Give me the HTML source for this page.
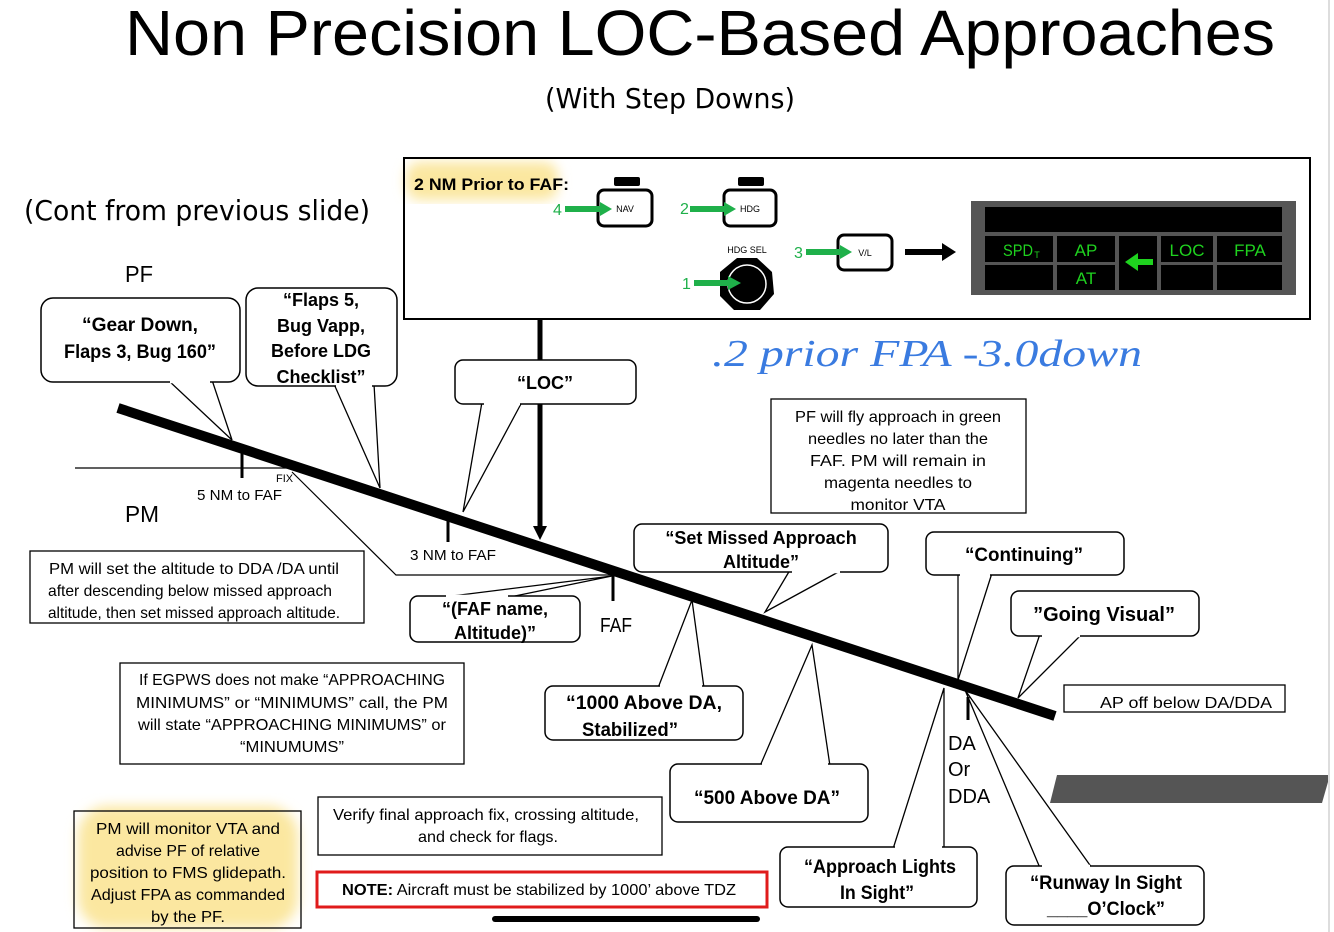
<!DOCTYPE html>
<html><head><meta charset="utf-8"><style>
html,body{margin:0;padding:0;background:#fff;}
svg{display:block;}
text{font-family:"Liberation Sans",sans-serif;}
</style></head><body>
<svg width="1334" height="932" viewBox="0 0 1334 932" xmlns="http://www.w3.org/2000/svg">
<defs>
<filter id="blur"><feGaussianBlur stdDeviation="6"/></filter>
</defs>
<rect x="406" y="162" width="152" height="38" rx="14" fill="#fbe7a0" filter="url(#blur)"/>
<rect x="78" y="806" width="220" height="122" rx="30" fill="#fbe7a0" filter="url(#blur)"/>

<text x="700" y="55" font-size="64" text-anchor="middle" textLength="1150" lengthAdjust="spacingAndGlyphs">Non Precision LOC-Based Approaches</text>
<text x="670" y="108" font-size="28" text-anchor="middle" style="font-family:'DejaVu Sans',sans-serif" textLength="250" lengthAdjust="spacingAndGlyphs">(With Step Downs)</text>
<text x="24" y="220" font-size="28" style="font-family:'DejaVu Sans',sans-serif" textLength="346" lengthAdjust="spacingAndGlyphs">(Cont from previous slide)</text>
<text x="125" y="282" font-size="23" textLength="28" lengthAdjust="spacingAndGlyphs">PF</text>
<text x="125" y="522" font-size="23" textLength="34" lengthAdjust="spacingAndGlyphs">PM</text>

<rect x="404" y="158" width="906" height="161" fill="none" stroke="#000" stroke-width="2"/>
<text x="414" y="190" font-size="17" font-weight="bold" textLength="155" lengthAdjust="spacingAndGlyphs">2 NM Prior to FAF:</text>
<rect x="614" y="177" width="26" height="9" rx="2" fill="#000"/>
<rect x="598" y="190" width="54" height="36" rx="6" fill="#fff" stroke="#000" stroke-width="3"/>
<text x="625" y="212" font-size="9" text-anchor="middle">NAV</text>
<rect x="738" y="177" width="26" height="9" rx="2" fill="#000"/>
<rect x="724" y="190" width="52" height="36" rx="6" fill="#fff" stroke="#000" stroke-width="3"/>
<text x="750" y="212" font-size="9" text-anchor="middle">HDG</text>
<text x="747" y="253" font-size="9" text-anchor="middle">HDG SEL</text>
<polygon points="737,258 757,258 772,272 774,294 760,310 734,310 720,296 720,272" fill="#000"/>
<circle cx="747" cy="284" r="19" fill="#000" stroke="#fff" stroke-width="1.5"/>
<rect x="838" y="235" width="54" height="35" rx="6" fill="#fff" stroke="#000" stroke-width="3"/>
<text x="865" y="256" font-size="9" text-anchor="middle">V/L</text>
<g fill="#1fb04a" font-size="16">
<text x="553" y="215">4</text><rect x="565" y="206" width="37" height="6"/><polygon points="600,202 612,209 600,216"/>
<text x="680" y="214">2</text><rect x="690" y="206" width="36" height="6"/><polygon points="724,202 736,209 724,216"/>
<text x="682" y="289">1</text><rect x="694" y="280" width="36" height="6"/><polygon points="728,276 741,283 728,290"/>
<text x="794" y="258">3</text><rect x="806" y="249" width="36" height="6"/><polygon points="840,245 852,252 840,259"/>
</g>
<rect x="905" y="249" width="40" height="6" fill="#000"/><polygon points="942,243 956,252 942,261" fill="#000"/>
<rect x="971" y="201" width="325" height="94" fill="#555"/>
<g fill="#000">
<rect x="985" y="207" width="297" height="25"/>
<rect x="985" y="236" width="68" height="26"/><rect x="1057" y="236" width="58" height="26"/>
<rect x="1119" y="236" width="38" height="54"/><rect x="1161" y="236" width="52" height="26"/><rect x="1217" y="236" width="65" height="26"/>
<rect x="985" y="265" width="68" height="25"/><rect x="1057" y="265" width="58" height="25"/>
<rect x="1161" y="265" width="52" height="25"/><rect x="1217" y="265" width="65" height="25"/>
</g>
<g fill="#1fd21f" font-size="17" text-anchor="middle">
<text x="1018" y="256" textLength="30" lengthAdjust="spacingAndGlyphs">SPD</text>
<text x="1037" y="258" font-size="9">T</text>
<text x="1086" y="256">AP</text><text x="1086" y="284">AT</text>
<text x="1187" y="256">LOC</text><text x="1250" y="256">FPA</text>
<rect x="1137" y="259" width="16" height="6"/><polygon points="1138,253 1125,262 1138,271"/>
</g>
<text x="712" y="366" font-size="38" fill="#3a7be0" font-style="italic" style="font-family:'Liberation Serif',serif" textLength="430" lengthAdjust="spacingAndGlyphs">.2 prior  FPA -3.0down</text>

<line x1="540" y1="319" x2="540" y2="528" stroke="#000" stroke-width="5"/>
<polygon points="533,526 547,526 540,540" fill="#000"/>

<line x1="75" y1="468" x2="292" y2="468" stroke="#000" stroke-width="1.2"/>
<line x1="242" y1="452" x2="242" y2="478" stroke="#000" stroke-width="3"/>
<text x="276" y="482" font-size="11">FIX</text>
<text x="197" y="500" font-size="15" textLength="85" lengthAdjust="spacingAndGlyphs">5 NM to FAF</text>
<polyline points="292,472 396,575 612,575" fill="none" stroke="#000" stroke-width="1.2"/>
<line x1="448" y1="520" x2="448" y2="542" stroke="#000" stroke-width="3"/>
<text x="410" y="560" font-size="15" textLength="86" lengthAdjust="spacingAndGlyphs">3 NM to FAF</text>
<line x1="613" y1="575" x2="613" y2="601" stroke="#000" stroke-width="3"/>
<text x="600" y="632" font-size="20" textLength="32" lengthAdjust="spacingAndGlyphs">FAF</text>
<line x1="968" y1="697" x2="968" y2="720" stroke="#000" stroke-width="3"/>
<text x="948" y="750" font-size="20">DA</text>
<text x="948" y="776" font-size="20">Or</text>
<text x="948" y="803" font-size="20">DDA</text>

<g fill="none" stroke="#000" stroke-width="1.3">
<polyline points="168,380 232,440 212,380"/>
<polyline points="334,384 380,488 374,384"/>
<polyline points="482,402 463,512 522,402"/>
<polyline points="444,597 612,576 510,597"/>
<polyline points="790,570 765,612 842,570"/>
<polyline points="658,688 692,600 704,688"/>
<polyline points="760,766 812,645 830,766"/>
<polyline points="958,573 958,680 992,573"/>
<polyline points="1040,634 1018,698 1082,634"/>
<polyline points="893,849 944,688 944,849"/>
<polyline points="1040,868 965,690 1092,868"/>
</g>

<line x1="118" y1="408" x2="1055" y2="716" stroke="#000" stroke-width="10"/>

<g fill="#fff" stroke="#000" stroke-width="1.5">
<rect x="41" y="298" width="199" height="84" rx="12"/>
<rect x="246" y="288" width="151" height="98" rx="12"/>
<rect x="455" y="360" width="181" height="44" rx="8"/>
<rect x="410" y="596" width="170" height="46" rx="8"/>
<rect x="634" y="524" width="254" height="48" rx="8"/>
<rect x="545" y="686" width="198" height="54" rx="8"/>
<rect x="670" y="764" width="198" height="58" rx="8"/>
<rect x="926" y="532" width="198" height="43" rx="8"/>
<rect x="1011" y="591" width="188" height="45" rx="8"/>
<rect x="780" y="847" width="197" height="60" rx="8"/>
<rect x="1006" y="866" width="198" height="59" rx="8"/>
</g>
<g stroke="#fff" stroke-width="2.5">
<line x1="170" y1="382" x2="210" y2="382"/>
<line x1="336" y1="386" x2="372" y2="386"/>
<line x1="484" y1="404" x2="520" y2="404"/>
<line x1="446" y1="596" x2="508" y2="596"/>
<line x1="792" y1="572" x2="840" y2="572"/>
<line x1="660" y1="686" x2="702" y2="686"/>
<line x1="762" y1="764" x2="828" y2="764"/>
<line x1="960" y1="575" x2="990" y2="575"/>
<line x1="1042" y1="636" x2="1080" y2="636"/>
<line x1="895" y1="847" x2="942" y2="847"/>
<line x1="1042" y1="866" x2="1090" y2="866"/>
</g>

<g font-weight="bold" text-anchor="middle" font-size="19">
<text x="140" y="331" textLength="116" lengthAdjust="spacingAndGlyphs">“Gear Down,</text>
<text x="140" y="358" textLength="152" lengthAdjust="spacingAndGlyphs">Flaps 3, Bug 160”</text>
<text x="321" y="306" font-size="18">“Flaps 5,</text>
<text x="321" y="332" font-size="18">Bug Vapp,</text>
<text x="321" y="357" font-size="18">Before LDG</text>
<text x="321" y="383" font-size="18">Checklist”</text>
<text x="545" y="389" font-size="18">“LOC”</text>
<text x="495" y="615" font-size="18">“(FAF name,</text>
<text x="495" y="639" font-size="18">Altitude)”</text>
<text x="761" y="544" font-size="18">“Set Missed Approach</text>
<text x="761" y="568" font-size="18">Altitude”</text>
<text x="644" y="709" textLength="156" lengthAdjust="spacingAndGlyphs">“1000 Above DA,</text>
<text x="630" y="736" textLength="96" lengthAdjust="spacingAndGlyphs">Stabilized”</text>
<text x="767" y="804" textLength="146" lengthAdjust="spacingAndGlyphs">“500 Above DA”</text>
<text x="1024" y="561" textLength="118" lengthAdjust="spacingAndGlyphs">“Continuing”</text>
<text x="1104" y="621" font-size="20">”Going Visual”</text>
<text x="880" y="873" textLength="152" lengthAdjust="spacingAndGlyphs">“Approach Lights</text>
<text x="877" y="899" textLength="74" lengthAdjust="spacingAndGlyphs">In Sight”</text>
<text x="1106" y="889" textLength="152" lengthAdjust="spacingAndGlyphs">“Runway In Sight</text>
<text x="1106" y="915" textLength="118" lengthAdjust="spacingAndGlyphs">____O’Clock”</text>
</g>

<g fill="none" stroke="#000" stroke-width="1.3">
<rect x="771" y="399" width="255" height="114"/>
<rect x="30" y="551" width="334" height="72"/>
<rect x="120" y="663" width="344" height="101"/>
<rect x="1064" y="685" width="221" height="27"/>
<rect x="318" y="797" width="344" height="58"/>
<rect x="74" y="811" width="227" height="117"/>
</g>
<rect x="317" y="872" width="450" height="35" fill="none" stroke="#e01b1b" stroke-width="3"/>

<g font-size="16" text-anchor="middle">
<text x="898" y="422" textLength="206" lengthAdjust="spacingAndGlyphs">PF will fly approach in green</text>
<text x="898" y="444" textLength="180" lengthAdjust="spacingAndGlyphs">needles no later than the</text>
<text x="898" y="466" textLength="176" lengthAdjust="spacingAndGlyphs">FAF.  PM will remain in</text>
<text x="898" y="488" textLength="148" lengthAdjust="spacingAndGlyphs">magenta  needles to</text>
<text x="898" y="510" textLength="95" lengthAdjust="spacingAndGlyphs">monitor VTA</text>
<text x="194" y="574" textLength="290" lengthAdjust="spacingAndGlyphs">PM will set the altitude to DDA /DA until</text>
<text x="190" y="596" textLength="284" lengthAdjust="spacingAndGlyphs">after descending below missed approach</text>
<text x="194" y="618" textLength="292" lengthAdjust="spacingAndGlyphs">altitude, then set missed approach altitude.</text>
<text x="292" y="685" textLength="306" lengthAdjust="spacingAndGlyphs">If EGPWS does not make “APPROACHING</text>
<text x="292" y="708" textLength="312" lengthAdjust="spacingAndGlyphs">MINIMUMS” or “MINIMUMS” call, the PM</text>
<text x="292" y="730" textLength="308" lengthAdjust="spacingAndGlyphs">will state “APPROACHING MINIMUMS” or</text>
<text x="292" y="752" textLength="104" lengthAdjust="spacingAndGlyphs">“MINUMUMS”</text>
<text x="1186" y="708" textLength="172" lengthAdjust="spacingAndGlyphs">AP off below DA/DDA</text>
<text x="486" y="820" textLength="306" lengthAdjust="spacingAndGlyphs">Verify final approach fix, crossing altitude,</text>
<text x="488" y="842" textLength="140" lengthAdjust="spacingAndGlyphs">and check for flags.</text>
<text x="188" y="834" textLength="184" lengthAdjust="spacingAndGlyphs">PM will monitor VTA and</text>
<text x="188" y="856" textLength="144" lengthAdjust="spacingAndGlyphs">advise PF of relative</text>
<text x="188" y="878" textLength="196" lengthAdjust="spacingAndGlyphs">position to FMS glidepath.</text>
<text x="188" y="900" textLength="194" lengthAdjust="spacingAndGlyphs">Adjust FPA as commanded</text>
<text x="188" y="922" textLength="74" lengthAdjust="spacingAndGlyphs">by the PF.</text>
</g>
<text x="342" y="895" font-size="16" textLength="394" lengthAdjust="spacingAndGlyphs"><tspan font-weight="bold">NOTE:</tspan> Aircraft must be stabilized by 1000’ above TDZ</text>

<polygon points="1057,775 1330,775 1322,803 1050,803" fill="#555"/>
<line x1="1329" y1="0" x2="1329" y2="932" stroke="#ddd" stroke-width="2"/>
<rect x="492" y="916" width="268" height="6" rx="3" fill="#000"/>
</svg>
</body></html>
